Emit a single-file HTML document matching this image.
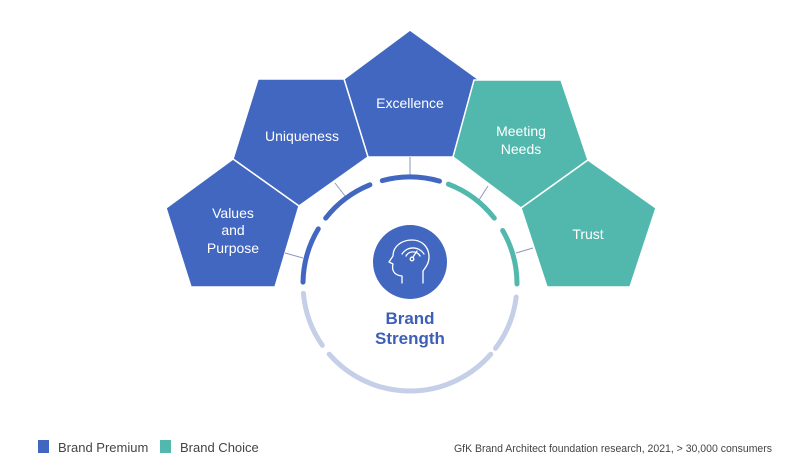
<!DOCTYPE html>
<html><head><meta charset="utf-8"><style>
html,body{margin:0;padding:0;background:#fff;}
body{width:800px;height:472px;overflow:hidden;position:relative;font-family:"Liberation Sans",sans-serif;}
.leg{position:absolute;top:439px;font-size:13px;color:#444;}
</style></head><body>
<svg width="800" height="472" style="position:absolute;left:0;top:0" font-family="Liberation Sans, sans-serif">
<g stroke="#fff" stroke-width="1.5" stroke-linejoin="round">
<polygon points="410,30 478,79 453,157 368,157 344,79" fill="#4267c0"/>
<polygon points="258,79 344,79 368,157 299,206 233,159" fill="#4267c0"/>
<polygon points="233,159 299,206 275,287 191,287 166,208" fill="#4267c0"/>
<polygon points="474,80 561,80 588,160 521,208 453,157" fill="#52b8ad"/>
<polygon points="588,160 656,208 630,287 547,287 521,208" fill="#52b8ad"/>
</g>
<g stroke="#8a9ab8" stroke-width="1">
<line x1="410" y1="157" x2="410" y2="178"/>
<line x1="335" y1="183" x2="345" y2="196"/>
<line x1="285" y1="253" x2="303" y2="258"/>
<line x1="488" y1="186" x2="479" y2="200"/>
<line x1="533" y1="248" x2="516" y2="253"/>
</g>
<g fill="none" stroke-width="5" stroke-linecap="round">
<path id="a" d=""/>
</g>
<g fill="#fff" font-size="14" text-anchor="middle">
<text x="410" y="108">Excellence</text>
<text x="302" y="141">Uniqueness</text>
<text x="521" y="136">Meeting</text>
<text x="521" y="154">Needs</text>
<text x="588" y="239">Trust</text>
<text x="233" y="218">Values</text>
<text x="233" y="235">and</text>
<text x="233" y="253">Purpose</text>
</g>
<circle cx="410" cy="262" r="37" fill="#4267c0"/>
<g fill="none" stroke="#fff" stroke-width="1.3" stroke-linejoin="round" stroke-linecap="round">
<path d="M402,283 L402,276 C392,275 392,268 393,264 L389,262 L393,256 C393,246 402,240 412,240 C423,240 429,248 429,257 C429,264 425,268 423,271 L423,283"/>
<path d="M402,254 A13,13 0 0 1 424,254 M406,256 A8,8 0 0 1 420,256"/>
<path d="M413,257 L417,251"/>
<circle cx="412" cy="259" r="1.8"/>
</g>
<g fill="#3d5fb5" font-size="17" font-weight="bold" text-anchor="middle">
<text x="410" y="324">Brand</text>
<text x="410" y="344">Strength</text>
</g>
<rect x="38" y="440" width="11" height="13" fill="#4267c0"/>
<rect x="160" y="440" width="11" height="13" fill="#52b8ad"/>
<text x="58" y="452" font-size="13" fill="#444">Brand Premium</text>
<text x="180" y="452" font-size="13" fill="#444">Brand Choice</text>
<text x="772" y="452" font-size="11" fill="#444" text-anchor="end" textLength="318" lengthAdjust="spacingAndGlyphs">GfK Brand Architect foundation research, 2021, &gt; 30,000 consumers</text>
<g id="arcs"></g>
</svg>
<script>
var cx=410,cy=284,r=107,ns="http://www.w3.org/2000/svg";
var segs=[[-105,-74,"#4267c0"],[-142,-112,"#4267c0"],[-179,-149,"#4267c0"],[-69,-38,"#52b8ad"],[-30,0,"#52b8ad"],[145,175,"#c5cfe8"],[41,139,"#c5cfe8"],[7,37,"#c5cfe8"]];
var g=document.getElementById("arcs");
segs.forEach(function(s){
 var a1=s[0]*Math.PI/180,a2=s[1]*Math.PI/180;
 var p=document.createElementNS(ns,"path");
 p.setAttribute("d","M"+(cx+r*Math.cos(a1))+","+(cy+r*Math.sin(a1))+" A"+r+","+r+" 0 0 1 "+(cx+r*Math.cos(a2))+","+(cy+r*Math.sin(a2)));
 p.setAttribute("fill","none");p.setAttribute("stroke",s[2]);p.setAttribute("stroke-width","5");p.setAttribute("stroke-linecap","round");
 g.appendChild(p);
});
</script>
</body></html>
